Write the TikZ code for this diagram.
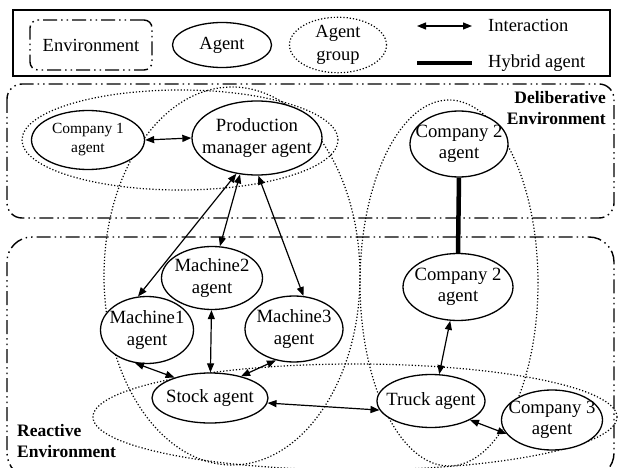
\documentclass[tikz,border=0pt]{standalone}
\usepackage{fontspec}
\setmainfont{Liberation Serif}
\usetikzlibrary{arrows.meta,shapes.geometric}
\newcommand{\twolines}[2]{\makebox[0pt]{#1}\\\makebox[0pt]{#2}}
\newcommand{\oneline}[1]{\makebox[0pt]{#1}}

\begin{document}
\begin{tikzpicture}[
  x=1pt,y=-1pt,
  agent/.style={ellipse,draw,fill=white,line width=1.3pt,inner sep=0pt,
                align=center,font=\fontsize{18.7}{21.5}\selectfont},
  agentgroup/.style={draw,line width=1.2pt,dash pattern=on 1.2pt off 2pt},
  env/.style={draw,line width=1.4pt,
              dash pattern=on 14pt off 4pt on 1.5pt off 4pt on 1.5pt off 4pt},
  arr/.style={{Triangle[length=9pt,width=7pt]}-{Triangle[length=9pt,width=7pt]},
              line width=1.2pt},
  hybrid/.style={line width=4.5pt},
  lbl/.style={inner sep=0pt,font=\fontsize{18.5}{22}\selectfont},
  envlabel/.style={inner sep=0pt,font=\fontsize{17.5}{21}\selectfont\bfseries}
]
  \useasboundingbox (0,0) rectangle (619,468);

  % Legend
  \draw[line width=1.3pt] (13,10) rectangle (610,76);
  \node[env,rounded corners=8pt,minimum width=122pt,minimum height=50pt,
        inner sep=0pt,font=\fontsize{18.5}{22}\selectfont] (legenv) at (91,45) {Environment};
  \node[agent,minimum width=99pt,minimum height=45pt,
        font=\fontsize{18.5}{22}\selectfont] (legagent) at (222,45) {\oneline{Agent}};
  \node[agentgroup,ellipse,minimum width=97pt,minimum height=50pt,inner sep=0pt,
        align=center,font=\fontsize{18.5}{23}\selectfont] (leggroup) at (338,45)
    {\twolines{Agent}{group}};
  \coordinate (inta) at (417,26);
  \coordinate (intb) at (472,26);
  \draw[arr] (inta) -- (intb);
  \node[lbl,anchor=west] (legint) at (488,25) {Interaction};
  \coordinate (hyba) at (417,63);
  \coordinate (hybb) at (472,63);
  \draw[hybrid] (hyba) -- (hybb);
  \node[lbl,anchor=west] (leghyb) at (488,63) {Hybrid agent};

  % Environments
  \draw[env,rounded corners=15pt] (7,84) rectangle (614,218);
  \draw[env,rounded corners=25pt] (7,237) rectangle (614,478);
  \node[envlabel,align=right,anchor=east] (delib) at (606,108)
    {Deliberative\\Environment};
  \node[envlabel,align=left,anchor=west] (react) at (17,441)
    {Reactive\\Environment};

  % Agent groups
  \draw[agentgroup] (180,140) ellipse [x radius=158pt,y radius=50pt];
  \draw[agentgroup] (232,276) ellipse [x radius=128pt,y radius=189pt];
  \draw[agentgroup] (449,283) ellipse [x radius=89pt,y radius=183pt];
  \draw[agentgroup] (355,417) ellipse [x radius=262pt,y radius=53pt];

  % Agents
  \node[agent,minimum width=113pt,minimum height=59pt,
        font=\fontsize{15.5}{19}\selectfont] (c1) at (88,140)
    {\twolines{Company 1}{agent}};
  \node[agent,minimum width=130pt,minimum height=74pt] (pm) at (257,138)
    {\twolines{Production}{manager agent}};
  \node[agent,minimum width=98pt,minimum height=66pt] (c2a) at (459,144)
    {\twolines{Company 2}{agent}};
  \node[agent,minimum width=110pt,minimum height=67pt] (c2b) at (458,287)
    {\twolines{Company 2}{agent}};
  \node[agent,minimum width=101pt,minimum height=63pt] (m2) at (212,278)
    {\twolines{Machine2}{agent}};
  \node[agent,minimum width=93pt,minimum height=67pt] (m1) at (147,330)
    {\twolines{Machine1}{agent}};
  \node[agent,minimum width=98pt,minimum height=66pt] (m3) at (294,329)
    {\twolines{Machine3}{agent}};
  \node[agent,minimum width=116pt,minimum height=50pt] (stock) at (210,398)
    {\oneline{Stock agent}};
  \node[agent,minimum width=108pt,minimum height=53pt] (truck) at (431,401)
    {\oneline{Truck agent}};
  \node[agent,minimum width=101pt,minimum height=60pt] (c3) at (552,420)
    {\twolines{Company 3}{agent}};

  % Interactions
  \draw[arr] (c1.east) -- (pm.west);
  \draw[arr] (pm.240) -- (m1.105);
  \draw[arr] (pm.245) -- (m2.76);
  \draw[arr] (pm.272) -- (m3.74);
  \draw[arr] (m2) -- (stock);
  \draw[arr] (m1.250) -- (stock.150);
  \draw[arr] (m3.240) -- (stock.35);
  \draw[arr] (stock.355) -- (truck.190);
  \draw[arr] (truck.73) -- (c2b.257);
  \draw[arr] (truck.334) -- (c3.197);

  % Hybrid agent
  \draw[hybrid] (c2a.south) -- (c2b.north);
\end{tikzpicture}
\end{document}
